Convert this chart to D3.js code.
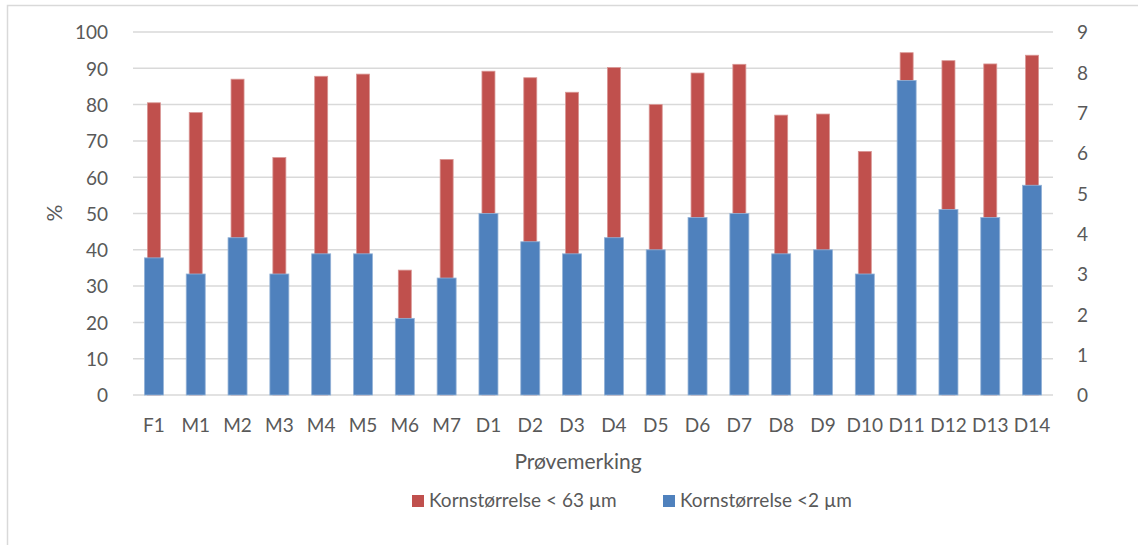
<!DOCTYPE html>
<html>
<head>
<meta charset="utf-8">
<script src="https://cdn.jsdelivr.net/npm/d3@7"></script>
<style>
  body { margin: 0; background: #fff; }
  text { font-family: Lato, "Open Sans", sans-serif; fill: #595959; }
</style>
</head>
<body>
<div id="chart"></div>
<script>
// sample labels and values
const categories = ["F1", "M1", "M2", "M3", "M4", "M5", "M6", "M7", "D1", "D2", "D3", "D4", "D5", "D6", "D7", "D8", "D9", "D10", "D11", "D12", "D13", "D14"];
const under63 = [80.5, 77.8, 87.0, 65.4, 87.8, 88.4, 34.4, 64.9, 89.2, 87.4, 83.4, 90.2, 80.0, 88.7, 91.1, 77.1, 77.4, 67.1, 94.3, 92.1, 91.2, 93.6];
const under2 = [3.4, 3.0, 3.9, 3.0, 3.5, 3.5, 1.9, 2.9, 4.5, 3.8, 3.5, 3.9, 3.6, 4.4, 4.5, 3.5, 3.6, 3.0, 7.8, 4.6, 4.4, 5.2];
const leftTicks = [0, 10, 20, 30, 40, 50, 60, 70, 80, 90, 100];
const rightTicks = [0, 1, 2, 3, 4, 5, 6, 7, 8, 9];
const seriesNames = ["Kornstørrelse < 63 µm", "Kornstørrelse <2 µm"];

// formatting parameters
const width = 1138, height = 545;
const margin = { top: 32, bottom: 150, left: 133, right: 85 };
const red = "#C0504D", blue = "#4F81BD";

const svg = d3.select("#chart")
    .append("svg")
    .attr("width", width)
    .attr("height", height);

// outer chart border
svg.append("rect")
    .attr("x", 7.5).attr("y", 5.5)
    .attr("width", width).attr("height", height)
    .attr("fill", "none")
    .attr("stroke", "#D9D9D9")
    .attr("stroke-width", 1.5);

// scales
const x = d3.scaleBand()
    .domain(categories)
    .range([margin.left, width - margin.right]);
const yLeft = d3.scaleLinear().domain([0, 100]).range([height - margin.bottom, margin.top]);
const yRight = d3.scaleLinear().domain([0, 9]).range([height - margin.bottom, margin.top]);

// gridlines
svg.append("g")
    .selectAll("line")
    .data(leftTicks)
    .enter()
    .append("line")
    .attr("x1", margin.left)
    .attr("x2", width - margin.right)
    .attr("y1", d => yLeft(d))
    .attr("y2", d => yLeft(d))
    .attr("stroke", "#D9D9D9")
    .attr("stroke-width", 1.5);

// left axis
const leftAxis = svg.append("g")
    .attr("transform", `translate(${margin.left - 22},0)`)
    .call(d3.axisLeft(yLeft).tickValues(leftTicks).tickSize(0));
leftAxis.select(".domain").remove();
leftAxis.selectAll("text")
    .style("font-size", "19px")
    .attr("dy", "0.36em");

// right axis
const rightAxis = svg.append("g")
    .attr("transform", `translate(${width - margin.right + 21},0)`)
    .call(d3.axisRight(yRight).tickValues(rightTicks).tickSize(0));
rightAxis.select(".domain").remove();
rightAxis.selectAll("text")
    .style("font-size", "19px")
    .attr("dy", "0.36em");

// red bars (left axis)
svg.append("g")
    .selectAll("rect")
    .data(under63)
    .enter()
    .append("rect")
    .attr("x", (d, i) => x(categories[i]) + x.bandwidth() / 2 - 6.5)
    .attr("y", d => yLeft(d))
    .attr("width", 13)
    .attr("height", d => yLeft(0) - yLeft(d))
    .attr("fill", red)
    .attr("stroke", "#D99694")
    .attr("stroke-width", 0.8);

// blue bars (right axis), drawn in front
svg.append("g")
    .selectAll("rect")
    .data(under2)
    .enter()
    .append("rect")
    .attr("x", (d, i) => x(categories[i]) + x.bandwidth() / 2 - 9.5)
    .attr("y", d => yRight(d))
    .attr("width", 19)
    .attr("height", d => yRight(0) - yRight(d))
    .attr("fill", blue)
    .attr("stroke", "#95B3D7")
    .attr("stroke-width", 0.8);

// category labels
svg.append("g")
    .selectAll("text")
    .data(categories)
    .enter()
    .append("text")
    .attr("x", d => x(d) + x.bandwidth() / 2)
    .attr("y", 432)
    .attr("text-anchor", "middle")
    .style("font-size", "19px")
    .text(d => d);

// axis titles
svg.append("text")
    .attr("x", 578)
    .attr("y", 469)
    .attr("text-anchor", "middle")
    .style("font-size", "21px")
    .text("Prøvemerking");

svg.append("text")
    .attr("transform", "translate(62,213) rotate(-90)")
    .attr("text-anchor", "middle")
    .style("font-size", "21px")
    .text("%");

// legend
const legendX = [412, 663];
const legend = svg.append("g");
legend.selectAll("rect")
    .data(seriesNames)
    .enter()
    .append("rect")
    .attr("x", (d, i) => legendX[i])
    .attr("y", 495)
    .attr("width", 12)
    .attr("height", 12)
    .attr("fill", (d, i) => i === 0 ? red : blue);
legend.selectAll("text")
    .data(seriesNames)
    .enter()
    .append("text")
    .attr("x", (d, i) => legendX[i] + 17)
    .attr("y", 507)
    .style("font-size", "19px")
    .text(d => d);
</script>
</body>
</html>
